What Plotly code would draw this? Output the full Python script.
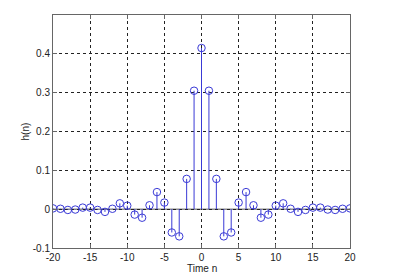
import plotly.graph_objects as go

n = list(range(-20, 21))
h_right = [0.415, 0.305, 0.078, -0.070, -0.060, 0.017, 0.044, 0.010, -0.022, -0.014,
           0.009, 0.015, 0.001, -0.007, -0.002, 0.004, 0.004, -0.001, -0.002, 0.001, 0.002]
h = h_right[:0:-1] + h_right
x_ticks = [-20, -15, -10, -5, 0, 5, 10, 15, 20]
x_labels = ["-20", "-15", "-10", "-5", "0", "5", "10", "15", "20"]
y_ticks = [-0.1, 0, 0.1, 0.2, 0.3, 0.4]
y_labels = ["-0.1", "0", "0.1", "0.2", "0.3", "0.4"]

blue = "#3a3ad6"

sx, sy = [], []
for xi, yi in zip(n, h):
    sx += [xi, xi, None]
    sy += [0, yi, None]

fig = go.Figure()
fig.add_trace(go.Scatter(x=sx, y=sy, mode="lines", line=dict(color=blue, width=1),
                         hoverinfo="skip", showlegend=False))
fig.add_trace(go.Scatter(x=n, y=h, mode="markers",
                         marker=dict(symbol="circle-open", size=7.5, color=blue,
                                     line=dict(width=1, color=blue)),
                         showlegend=False))
fig.add_shape(type="line", xref="paper", yref="y", x0=0, x1=1, y0=0, y1=0,
              line=dict(color="#555555", width=1), layer="below")

axis_common = dict(showline=True, linecolor="#666666", linewidth=1, mirror="ticks",
                   ticks="inside", ticklen=4, tickcolor="#666666", automargin=False,
                   showgrid=True, gridcolor="#222222", griddash="dot", gridwidth=1,
                   zeroline=False, tickfont=dict(family="Arial", size=10, color="#222222"))

title_font = dict(family="Arial", size=10, color="#222222")

fig.update_layout(
    width=400, height=278,
    margin=dict(l=53, r=50, t=15, b=30),
    paper_bgcolor="white", plot_bgcolor="white",
    xaxis=dict(range=[-20, 20], tickvals=x_ticks, ticktext=x_labels, **axis_common),
    yaxis=dict(range=[-0.1, 0.5], tickvals=y_ticks, ticktext=y_labels, **axis_common),
    annotations=[
        dict(text="Time n", xref="paper", yref="paper", x=0.5, y=0, yshift=-20,
             xanchor="center", yanchor="middle", showarrow=False, font=title_font),
        dict(text="h(n)", xref="paper", yref="paper", x=0, y=0.5, xshift=-28,
             xanchor="center", yanchor="middle", textangle=-90, showarrow=False,
             font=title_font),
    ],
)

fig.write_html("out.html")
